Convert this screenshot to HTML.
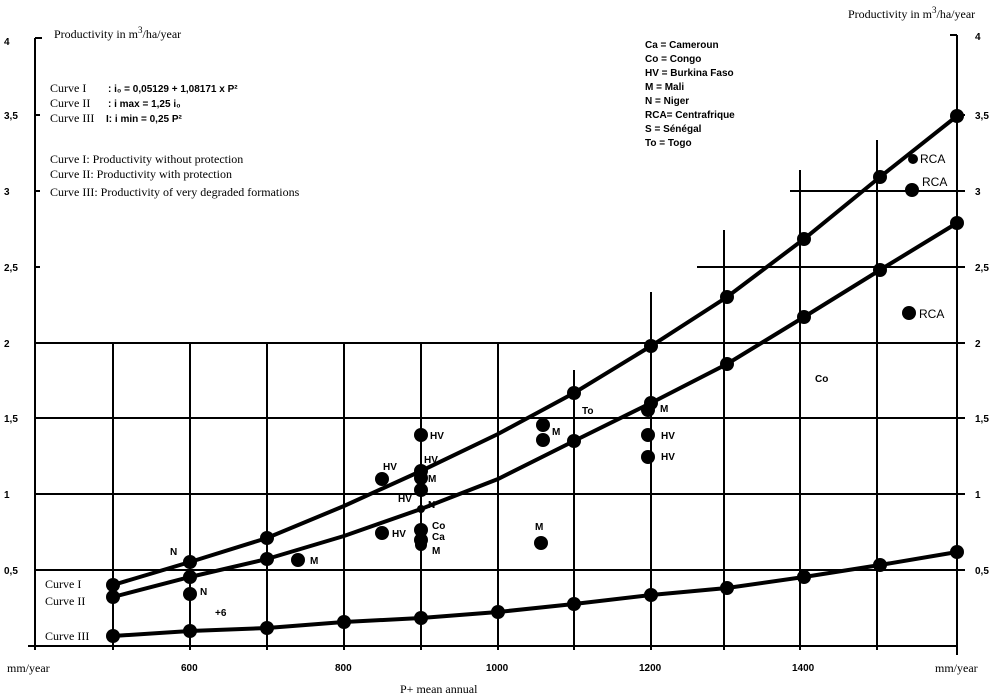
<!DOCTYPE html>
<html><head><style>body{margin:0;background:#fff}svg{display:block}</style></head><body>
<svg width="1000" height="697" xmlns="http://www.w3.org/2000/svg" font-family="Liberation Sans, sans-serif">
<rect width="1000" height="697" fill="#fff"/>
<g stroke="#000" stroke-width="2">
<line x1="35" y1="38" x2="35" y2="650"/><line x1="35" y1="38" x2="42" y2="38"/>
<line x1="28" y1="646" x2="957" y2="646"/>
<line x1="957" y1="35" x2="957" y2="655"/><line x1="950" y1="35" x2="957" y2="35"/>
<line x1="35" y1="570" x2="965" y2="570"/><line x1="35" y1="494" x2="965" y2="494"/>
<line x1="35" y1="418" x2="965" y2="418"/><line x1="35" y1="343" x2="965" y2="343"/>
<line x1="697" y1="267" x2="965" y2="267"/><line x1="790" y1="191" x2="965" y2="191"/>
<line x1="957" y1="115" x2="965" y2="115"/>
<line x1="113" y1="343" x2="113" y2="650"/><line x1="190" y1="343" x2="190" y2="650"/>
<line x1="267" y1="343" x2="267" y2="650"/><line x1="344" y1="343" x2="344" y2="650"/>
<line x1="421" y1="343" x2="421" y2="650"/><line x1="498" y1="343" x2="498" y2="650"/>
<line x1="574" y1="370" x2="574" y2="650"/><line x1="651" y1="292" x2="651" y2="650"/>
<line x1="724" y1="230" x2="724" y2="650"/><line x1="800" y1="170" x2="800" y2="650"/>
<line x1="877" y1="140" x2="877" y2="650"/>
<line x1="35" y1="115" x2="40" y2="115"/><line x1="35" y1="191" x2="40" y2="191"/><line x1="35" y1="267" x2="40" y2="267"/>
</g>
<g stroke="#000" stroke-width="4" fill="none">
<polyline points="113,585 190,562 267,538 344,506 421,471 498,434 574,393 651,346 727,297 804,239 880,177 957,116"/>
<polyline points="113,597 190,577 267,559 344,536 421,509 498,479 574,441 651,403 727,364 804,317 880,270 957,223"/>
<polyline points="113,636 190,631 267,628 344,622 421,618 498,612 574,604 651,595 727,588 804,577 880,565 957,552"/>
</g>
<g fill="#000">
<circle cx="113" cy="585" r="7"/><circle cx="190" cy="562" r="7"/><circle cx="267" cy="538" r="7"/><circle cx="421" cy="471" r="7"/><circle cx="574" cy="393" r="7"/><circle cx="651" cy="346" r="7"/><circle cx="727" cy="297" r="7"/><circle cx="804" cy="239" r="7"/><circle cx="880" cy="177" r="7"/><circle cx="957" cy="116" r="7"/>
<circle cx="113" cy="597" r="7"/><circle cx="190" cy="577" r="7"/><circle cx="267" cy="559" r="7"/><circle cx="421" cy="509" r="4"/><circle cx="574" cy="441" r="7"/><circle cx="651" cy="403" r="7"/><circle cx="727" cy="364" r="7"/><circle cx="804" cy="317" r="7"/><circle cx="880" cy="270" r="7"/><circle cx="957" cy="223" r="7"/>
<circle cx="113" cy="636" r="7"/><circle cx="190" cy="631" r="7"/><circle cx="267" cy="628" r="7"/><circle cx="344" cy="622" r="7"/><circle cx="421" cy="618" r="7"/><circle cx="498" cy="612" r="7"/><circle cx="574" cy="604" r="7"/><circle cx="651" cy="595" r="7"/><circle cx="727" cy="588" r="7"/><circle cx="804" cy="577" r="7"/><circle cx="880" cy="565" r="7"/><circle cx="957" cy="552" r="7"/>
<circle cx="190" cy="594" r="7"/><circle cx="298" cy="560" r="7"/><circle cx="382" cy="479" r="7"/><circle cx="382" cy="533" r="7"/>
<circle cx="421" cy="435" r="7"/><circle cx="421" cy="478" r="7"/><circle cx="421" cy="490" r="7"/><circle cx="421" cy="530" r="7"/><circle cx="421" cy="540" r="7"/><circle cx="421" cy="545" r="6"/>
<circle cx="541" cy="543" r="7"/><circle cx="543" cy="425" r="7"/><circle cx="543" cy="440" r="7"/>
<circle cx="648" cy="435" r="7"/><circle cx="648" cy="457" r="7"/><circle cx="648" cy="410" r="7"/>
<circle cx="913" cy="159" r="5"/><circle cx="912" cy="190" r="7"/><circle cx="909" cy="313" r="7"/>
</g>
<g font-family="Liberation Serif, serif" font-size="12">
<text x="54" y="38">Productivity in m<tspan dy="-5" font-size="9">3</tspan><tspan dy="5">/ha/year</tspan></text>
<text x="848" y="18">Productivity in m<tspan dy="-5" font-size="9">3</tspan><tspan dy="5">/ha/year</tspan></text>
<text x="50" y="92">Curve I</text><text x="50" y="107">Curve II</text><text x="50" y="122">Curve III</text>
<text x="50" y="163">Curve I: Productivity without protection</text>
<text x="50" y="178">Curve II: Productivity with protection</text>
<text x="50" y="196">Curve III: Productivity of very degraded formations</text>
<text x="45" y="588">Curve I</text><text x="45" y="605">Curve II</text><text x="45" y="640">Curve III</text>
<text x="7" y="672">mm/year</text><text x="935" y="672">mm/year</text>
<text x="400" y="693">P+ mean annual</text>
</g>
<g font-size="10" font-weight="bold">
<text x="108" y="92">: i₀ = 0,05129 + 1,08171 x P²</text>
<text x="108" y="107">: i max = 1,25 i₀</text>
<text x="106" y="122">I: i min = 0,25 P²</text>
<text x="645" y="48">Ca = Cameroun</text><text x="645" y="62">Co = Congo</text><text x="645" y="76">HV = Burkina Faso</text>
<text x="645" y="90">M = Mali</text><text x="645" y="104">N = Niger</text><text x="645" y="118">RCA= Centrafrique</text>
<text x="645" y="132">S = Sénégal</text><text x="645" y="146">To = Togo</text>
<text x="4" y="45">4</text><text x="4" y="119">3,5</text><text x="4" y="195">3</text><text x="4" y="271">2,5</text><text x="4" y="347">2</text><text x="4" y="422">1,5</text><text x="4" y="498">1</text><text x="4" y="574">0,5</text>
<text x="975" y="40">4</text><text x="975" y="119">3,5</text><text x="975" y="195">3</text><text x="975" y="271">2,5</text><text x="975" y="347">2</text><text x="975" y="422">1,5</text><text x="975" y="498">1</text><text x="975" y="574">0,5</text>
<text x="181" y="671">600</text><text x="335" y="671">800</text><text x="486" y="671">1000</text><text x="639" y="671">1200</text><text x="792" y="671">1400</text>
<text x="170" y="555">N</text><text x="200" y="595">N</text><text x="215" y="616">+6</text><text x="310" y="564">M</text>
<text x="383" y="470">HV</text><text x="424" y="463">HV</text><text x="428" y="482">M</text><text x="398" y="502">HV</text><text x="428" y="508">N</text>
<text x="392" y="537">HV</text><text x="432" y="529">Co</text><text x="432" y="540">Ca</text><text x="432" y="554">M</text><text x="430" y="439">HV</text>
<text x="535" y="530">M</text><text x="552" y="435">M</text><text x="582" y="414">To</text>
<text x="660" y="412">M</text><text x="661" y="439">HV</text><text x="661" y="460">HV</text><text x="815" y="382">Co</text>
<text x="920" y="163" font-weight="normal" font-size="12">RCA</text><text x="922" y="186" font-weight="normal" font-size="12">RCA</text><text x="919" y="318" font-weight="normal" font-size="12">RCA</text>
</g>
</svg>
</body></html>
